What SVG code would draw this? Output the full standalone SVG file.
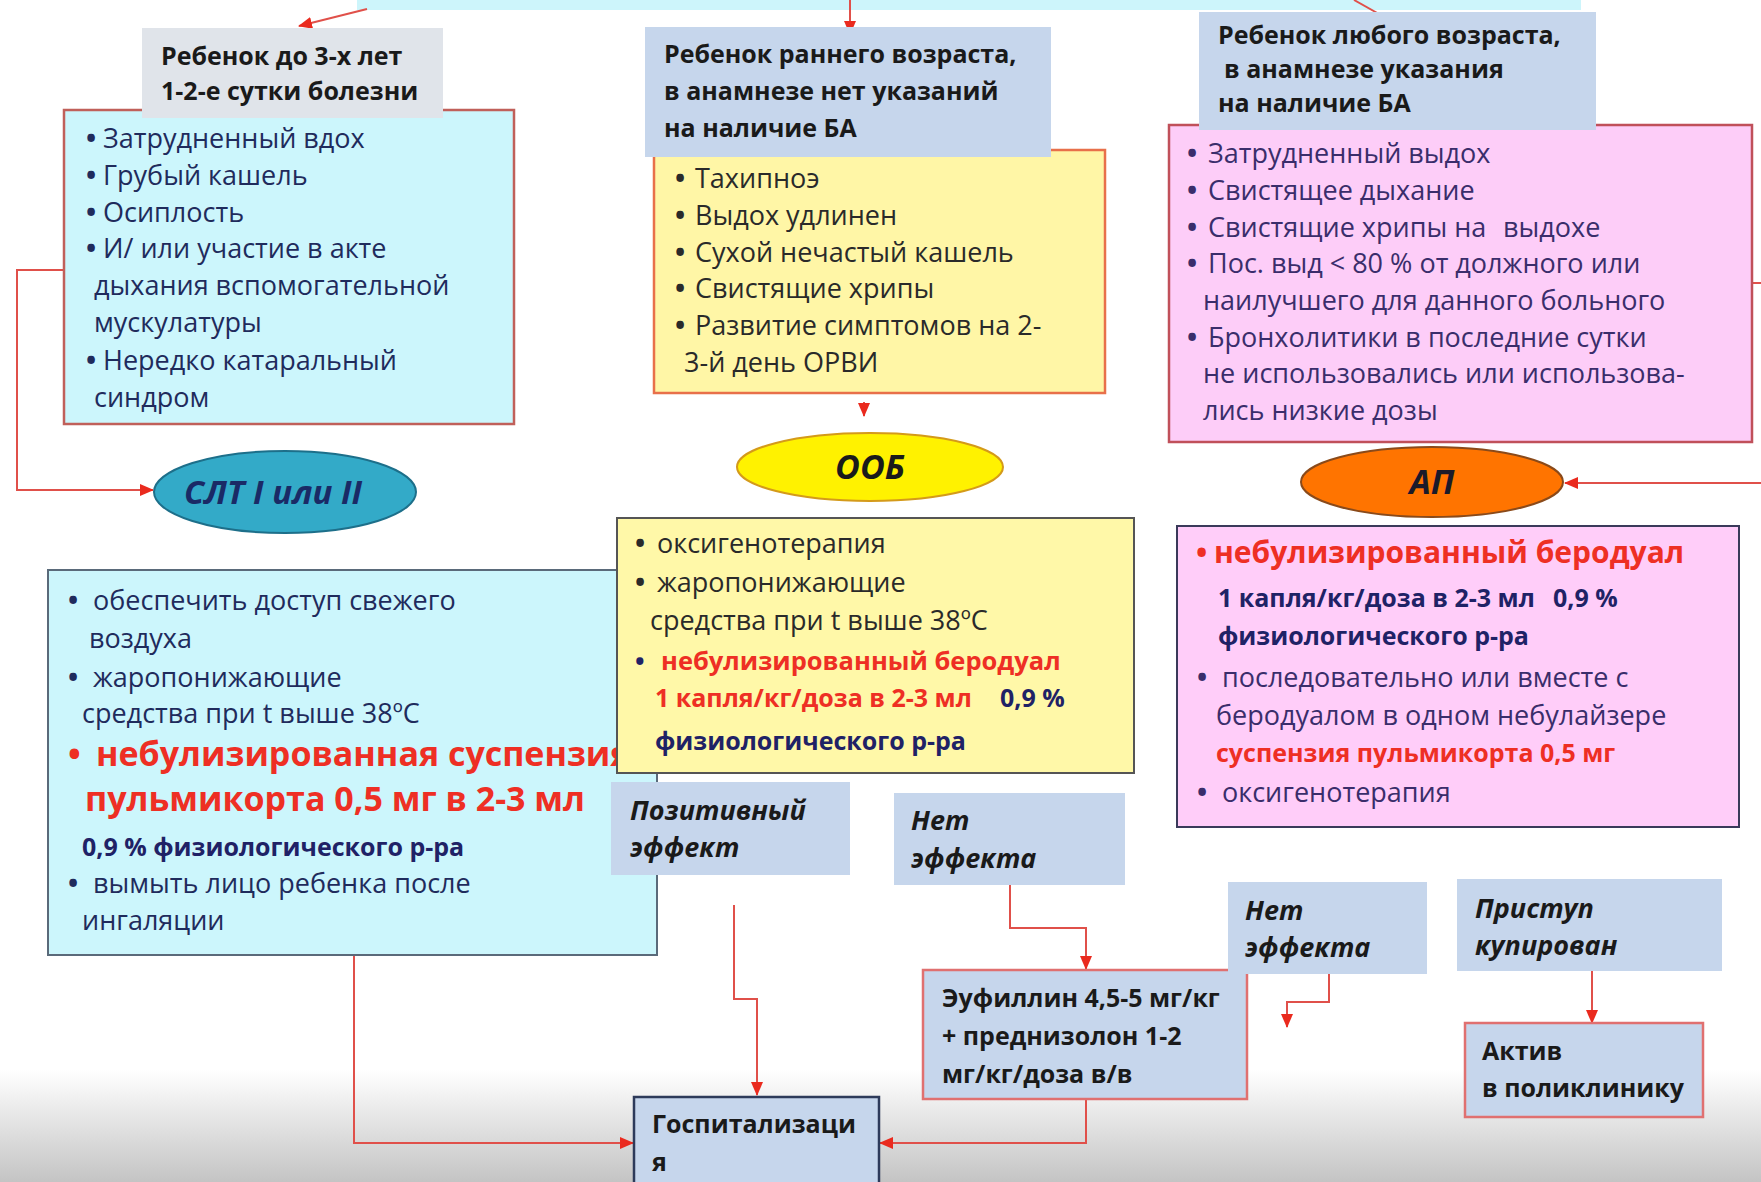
<svg xmlns="http://www.w3.org/2000/svg" width="1761" height="1182" viewBox="0 0 1761 1182">
<defs>
<linearGradient id="bottomShade" x1="0" y1="0" x2="0" y2="1">
<stop offset="0" stop-color="#ffffff"/>
<stop offset="1" stop-color="#c4c4c4"/>
</linearGradient>
<marker id="arr" markerUnits="userSpaceOnUse" markerWidth="14" markerHeight="12" refX="13" refY="6" orient="auto">
<path d="M0,0 L14,6 L0,12 z" fill="#ea2a1e"/>
</marker>
<style>
text{font-family:"Open Sans","Noto Sans","Liberation Sans",sans-serif;}
.b{font-size:27px;}
.cy{fill:#1f2b5c;}
.yl{fill:#2a2a2a;}
.pk{fill:#3a2d6b;}
.dot{font-weight:700;}
.hdr{font-size:25px;font-weight:700;fill:#1a1a1a;}
.lbl{font-size:27px;font-weight:700;font-style:italic;fill:#1a1a1a;}
.bx{font-size:25px;font-weight:700;fill:#1a1a1a;}
.red{fill:#ee2f24;font-weight:700;}
.nv{fill:#1f2266;font-weight:700;}
.ell{font-weight:700;font-style:italic;text-anchor:middle;}
.hb{fill:#c6d6ec;}
.c{fill:none;stroke:#e0504a;stroke-width:2;}
</style>
</defs>
<rect x="0" y="0" width="1761" height="1182" fill="#ffffff"/>
<rect x="0" y="1070" width="1761" height="112" fill="url(#bottomShade)"/>
<rect x="357" y="0" width="1224" height="10" fill="#cdf5fb"/>

<g id="connectors">
<path class="c" d="M367,9 L299,26" marker-end="url(#arr)"/>
<path class="c" d="M850,0 L850,34" marker-end="url(#arr)"/>
<path class="c" d="M1354,0 L1395,23" marker-end="url(#arr)"/>
<path class="c" d="M64,270 L17,270 L17,490 L153,490" marker-end="url(#arr)"/>
<path class="c" d="M864,402 L864,416" marker-end="url(#arr)"/>
<path class="c" d="M1752,283 L1761,283"/>
<path class="c" d="M1761,483 L1565,483" marker-end="url(#arr)"/>
<path class="c" d="M354,955 L354,1143 L633,1143" marker-end="url(#arr)"/>
<path class="c" d="M734,905 L734,999 L757,999 L757,1095" marker-end="url(#arr)"/>
<path class="c" d="M1010,885 L1010,928 L1086,928 L1086,969" marker-end="url(#arr)"/>
<path class="c" d="M1086,1099 L1086,1143 L880,1143" marker-end="url(#arr)"/>
<path class="c" d="M1329,974 L1329,1002 L1287,1002 L1287,1027" marker-end="url(#arr)"/>
<path class="c" d="M1592,971 L1592,1023" marker-end="url(#arr)"/>
</g>

<g id="symptomsA">
<rect x="64" y="110" width="450" height="314" fill="#ccf6fc" stroke="#c0605a" stroke-width="2.5"/>
<text class="b cy"><tspan class="dot" x="86" y="148">•</tspan><tspan x="103" y="148">Затрудненный вдох</tspan></text>
<text class="b cy"><tspan class="dot" x="86" y="185">•</tspan><tspan x="103" y="185">Грубый кашель</tspan></text>
<text class="b cy"><tspan class="dot" x="86" y="222">•</tspan><tspan x="103" y="222">Осиплость</tspan></text>
<text class="b cy"><tspan class="dot" x="86" y="258">•</tspan><tspan x="103" y="258">И/ или участие в акте</tspan></text>
<text class="b cy" x="94" y="295">дыхания вспомогательной</text>
<text class="b cy" x="94" y="332">мускулатуры</text>
<text class="b cy"><tspan class="dot" x="86" y="370">•</tspan><tspan x="103" y="370">Нередко катаральный</tspan></text>
<text class="b cy" x="94" y="407">синдром</text>
</g>
<g id="headerA">
<rect x="142" y="28" width="301" height="90" fill="#e0e4ea"/>
<text class="hdr" x="161" y="65">Ребенок до 3-х лет</text>
<text class="hdr" x="161" y="100">1-2-е сутки болезни</text>
</g>

<g id="symptomsB">
<rect x="654" y="150" width="451" height="243" fill="#fff6a6" stroke="#e8704a" stroke-width="2.5"/>
<text class="b yl"><tspan class="dot" x="675" y="188">•</tspan><tspan x="695" y="188">Тахипноэ</tspan></text>
<text class="b yl"><tspan class="dot" x="675" y="225">•</tspan><tspan x="695" y="225">Выдох удлинен</tspan></text>
<text class="b yl"><tspan class="dot" x="675" y="262">•</tspan><tspan x="695" y="262">Сухой нечастый кашель</tspan></text>
<text class="b yl"><tspan class="dot" x="675" y="298">•</tspan><tspan x="695" y="298">Свистящие хрипы</tspan></text>
<text class="b yl"><tspan class="dot" x="675" y="335">•</tspan><tspan x="695" y="335">Развитие симптомов на 2-</tspan></text>
<text class="b yl" x="684" y="372">3-й день ОРВИ</text>
</g>
<g id="headerB">
<rect class="hb" x="645" y="27" width="406" height="130"/>
<text class="hdr" x="664" y="63">Ребенок раннего возраста,</text>
<text class="hdr" x="664" y="100">в анамнезе нет указаний</text>
<text class="hdr" x="664" y="137">на наличие БА</text>
</g>

<g id="symptomsC">
<rect x="1169" y="125" width="583" height="317" fill="#fdcdf8" stroke="#c0505a" stroke-width="2.5"/>
<text class="b pk"><tspan class="dot" x="1187" y="163">•</tspan><tspan x="1208" y="163">Затрудненный выдох</tspan></text>
<text class="b pk"><tspan class="dot" x="1187" y="200">•</tspan><tspan x="1208" y="200">Свистящее дыхание</tspan></text>
<text class="b pk"><tspan class="dot" x="1187" y="237">•</tspan><tspan x="1208" y="237">Свистящие хрипы на</tspan><tspan x="1503" y="237">выдохе</tspan></text>
<text class="b pk"><tspan class="dot" x="1187" y="273">•</tspan><tspan x="1208" y="273">Пос. выд &lt; 80 % от должного или</tspan></text>
<text class="b pk" x="1203" y="310">наилучшего для данного больного</text>
<text class="b pk"><tspan class="dot" x="1187" y="347">•</tspan><tspan x="1208" y="347">Бронхолитики в последние сутки</tspan></text>
<text class="b pk" x="1203" y="383">не использовались или использова-</text>
<text class="b pk" x="1203" y="420">лись низкие дозы</text>
</g>
<g id="headerC">
<rect class="hb" x="1199" y="12" width="397" height="118"/>
<text class="hdr" x="1218" y="44">Ребенок любого возраста,</text>
<text class="hdr" x="1224" y="78">в анамнезе указания</text>
<text class="hdr" x="1218" y="112">на наличие БА</text>
</g>

<g id="slt">
<ellipse cx="285" cy="492" rx="131" ry="41" fill="#33aac8" stroke="#1d6f8a" stroke-width="2"/>
<text class="ell" x="273" y="504" font-size="33" fill="#1a2a66">СЛТ I или II</text>
</g>
<g id="oob">
<ellipse cx="870" cy="467" rx="133" ry="34" fill="#fff200" stroke="#d49a1a" stroke-width="2"/>
<text class="ell" x="870" y="479" font-size="34" fill="#1a1a1a">ООБ</text>
</g>
<g id="ap">
<ellipse cx="1432" cy="482" rx="131" ry="35" fill="#ff7400" stroke="#8a4a1a" stroke-width="2"/>
<text class="ell" x="1432" y="494" font-size="34" fill="#1a1a2a">АП</text>
</g>

<g id="treatSLT">
<rect x="48" y="570" width="609" height="385" fill="#ccf6fc" stroke="#5a6a7a" stroke-width="2"/>
<text class="b cy"><tspan class="dot" x="68" y="610">•</tspan><tspan x="93" y="610">обеспечить доступ свежего</tspan></text>
<text class="b cy" x="89" y="648">воздуха</text>
<text class="b cy"><tspan class="dot" x="68" y="687">•</tspan><tspan x="93" y="687">жаропонижающие</tspan></text>
<text class="b cy" x="82" y="723">средства при t выше 38ºC</text>
<text class="red" font-size="34"><tspan x="68" y="766">•</tspan><tspan x="96" y="766">небулизированная суспензия</tspan></text>
<text class="red" font-size="34" x="85" y="811">пульмикорта 0,5 мг в 2-3 мл</text>
<text class="nv" font-size="25" x="82" y="856">0,9 % физиологического р-ра</text>
<text class="b cy"><tspan class="dot" x="68" y="893">•</tspan><tspan x="93" y="893">вымыть лицо ребенка после</tspan></text>
<text class="b cy" x="82" y="930">ингаляции</text>
</g>

<g id="treatOOB">
<rect x="617" y="518" width="517" height="255" fill="#fff8a8" stroke="#555555" stroke-width="2"/>
<text class="b yl"><tspan class="dot" x="635" y="553">•</tspan><tspan x="657" y="553">оксигенотерапия</tspan></text>
<text class="b yl"><tspan class="dot" x="635" y="592">•</tspan><tspan x="657" y="592">жаропонижающие</tspan></text>
<text class="b yl" x="650" y="630">средства при t выше 38ºC</text>
<text font-size="25.5"><tspan x="635" y="670" class="nv">•</tspan><tspan x="661" y="670" class="red">небулизированный беродуал</tspan></text>
<text font-size="25"><tspan x="655" y="707" class="red">1 капля/кг/доза в 2-3 мл</tspan><tspan x="1000" y="707" class="nv">0,9 %</tspan></text>
<text class="nv" font-size="25" x="655" y="750">физиологического р-ра</text>
</g>

<g id="treatAP">
<rect x="1177" y="526" width="562" height="301" fill="#ffcdf9" stroke="#3a3a5a" stroke-width="2"/>
<text class="red" font-size="30"><tspan x="1196" y="563">•</tspan><tspan x="1214" y="563">небулизированный беродуал</tspan></text>
<text class="nv" font-size="25"><tspan x="1218" y="607">1 капля/кг/доза в 2-3 мл</tspan><tspan x="1553" y="607">0,9 %</tspan></text>
<text class="nv" font-size="25" x="1218" y="645">физиологического р-ра</text>
<text class="b pk"><tspan class="dot" x="1197" y="687">•</tspan><tspan x="1222" y="687">последовательно или вместе с</tspan></text>
<text class="b pk" x="1216" y="725">бeродуалом в одном небулайзере</text>
<text class="red" font-size="25" x="1216" y="762">суспензия пульмикорта 0,5 мг</text>
<text class="b pk"><tspan class="dot" x="1197" y="802">•</tspan><tspan x="1222" y="802">оксигенотерапия</tspan></text>
</g>

<g id="positive">
<rect class="hb" x="611" y="782" width="239" height="93"/>
<text class="lbl" x="630" y="820">Позитивный</text>
<text class="lbl" x="630" y="857">эффект</text>
</g>
<g id="noEffect1">
<rect class="hb" x="894" y="793" width="231" height="92"/>
<text class="lbl" x="911" y="830">Нет</text>
<text class="lbl" x="911" y="868">эффекта</text>
</g>
<g id="euphyllin">
<rect class="hb" x="923" y="970" width="324" height="129" stroke="#e07070" stroke-width="2.5"/>
<text class="bx" x="942" y="1007">Эуфиллин 4,5-5 мг/кг</text>
<text class="bx" x="942" y="1045">+ преднизолон 1-2</text>
<text class="bx" x="942" y="1083">мг/кг/доза в/в</text>
</g>
<g id="noEffect2">
<rect class="hb" x="1228" y="882" width="199" height="92"/>
<text class="lbl" x="1245" y="920">Нет</text>
<text class="lbl" x="1245" y="957">эффекта</text>
</g>
<g id="relieved">
<rect class="hb" x="1457" y="879" width="265" height="92"/>
<text class="lbl" x="1475" y="918">Приступ</text>
<text class="lbl" x="1475" y="955">купирован</text>
</g>
<g id="clinic">
<rect class="hb" x="1465" y="1023" width="238" height="94" stroke="#e07070" stroke-width="2.5"/>
<text class="bx" x="1482" y="1060">Актив</text>
<text class="bx" x="1482" y="1097">в поликлинику</text>
</g>
<g id="hospital">
<rect class="hb" x="634" y="1097" width="245" height="100" stroke="#2d3a5a" stroke-width="2.5"/>
<text class="bx" x="652" y="1133">Госпитализаци</text>
<text class="bx" x="652" y="1171">я</text>
</g>
</svg>
